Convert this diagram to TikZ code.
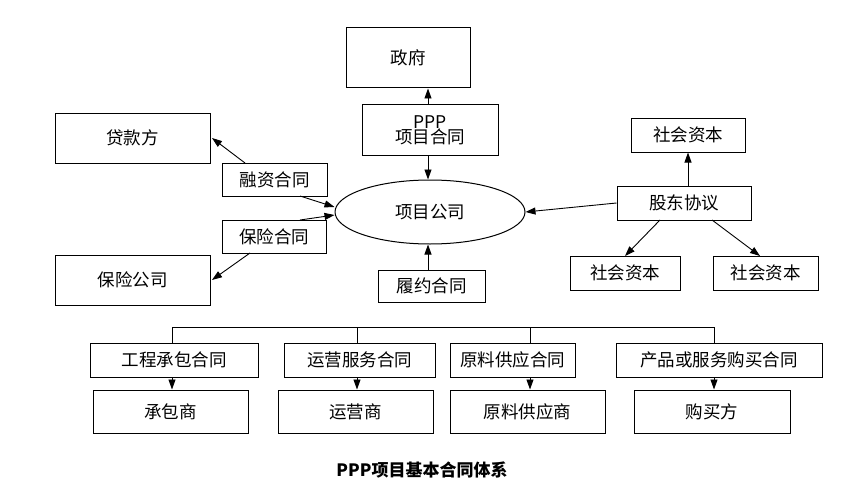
\documentclass[tikz,border=0pt]{standalone}
\usepackage{fontspec}
\setmainfont{Noto Sans CJK SC}
\setsansfont{Noto Sans CJK SC}
\usetikzlibrary{arrows.meta,shapes.geometric}
\begin{document}
\begin{tikzpicture}[x=1pt,y=-1pt,
  box/.style={draw,line width=1pt,inner sep=0pt,font=\fontsize{17.5}{20}\selectfont},
  arr/.style={line width=0.9pt,-{Triangle[length=10pt,width=7pt]}},
  ln/.style={line width=0.9pt}]
\useasboundingbox (0,0) rectangle (866,500);
\newcommand{\bx}[6]{\node[box,minimum width=#4-#2,minimum height=#5-#3,align=center] (#1) at ({(#2+#4)/2},{(#3+#5)/2}) {#6};}
\bx{gov}{346}{28}{470}{88}{政府}
\bx{ppp}{362}{105}{498}{155}{PPP\\[-5pt]项目合同}
\bx{loan}{55}{113}{210}{163}{贷款方}
\bx{rz}{222}{163}{327}{196}{融资合同}
\bx{bx}{222}{220}{326}{253}{保险合同}
\bx{ins}{55}{255}{210}{305}{保险公司}
\bx{ly}{378}{270}{485}{302}{履约合同}
\bx{sc1}{631}{118}{745}{152}{社会资本}
\bx{gd}{617}{186}{751}{220}{股东协议}
\bx{sc2}{570}{256}{680}{290}{社会资本}
\bx{sc3}{713}{256}{818}{290}{社会资本}
\node[draw,ellipse,line width=1pt,minimum width=190,minimum height=64,font=\fontsize{17.5}{20}\selectfont] (co) at (430,212) {项目公司};
\bx{c1}{90}{343}{258}{377}{工程承包合同}
\bx{c2}{284}{343}{435}{377}{运营服务合同}
\bx{c3}{450}{343}{575}{377}{原料供应合同}
\bx{c4}{616}{343}{822}{377}{产品或服务购买合同}
\bx{p1}{93}{390}{248}{433}{承包商}
\bx{p2}{278}{390}{433}{433}{运营商}
\bx{p3}{450}{390}{605}{433}{原料供应商}
\bx{p4}{634}{390}{790}{433}{购买方}
\coordinate (k1) at (172,327); \coordinate (k2) at (357,327);
\coordinate (k3) at (530,327); \coordinate (k4) at (714,327);
\draw[ln] (c1.north -| k1) -- (k1) -- (k4) -- (c4.north -| k4);
\draw[ln] (k2) -- (c2.north -| k2); \draw[ln] (k3) -- (c3.north -| k3);
\draw[arr] (c1.south -| k1) -- (p1.north -| k1);
\draw[arr] (c2.south -| k2) -- (p2.north -| k2);
\draw[arr] (c3.south -| k3) -- (p3.north -| k3);
\draw[arr] (c4.south -| k4) -- (p4.north -| k4);
\coordinate (g1) at (428,105);
\draw[arr] (g1) -- (gov.south -| g1);
\draw[arr] (ppp.south -| g1) -- (co.north -| g1);
\draw[arr] (ly.north -| g1) -- (co.south -| g1);
\draw[arr] (gd.west) -- (co.east);
\draw[arr] (gd.north -| sc1) -- (sc1.south);
\coordinate (r1) at (245,163); \coordinate (r2) at (300,196);
\coordinate (b1) at (300,220); \coordinate (b2) at (250,253);
\draw[arr] (r1) -- (212,138);
\draw[arr] (r2) -- (co.west |- 0,207);
\draw[arr] (b1) -- (co.west |- 0,215);
\draw[arr] (b2) -- (212,280);
\coordinate (s1) at (660,220); \coordinate (s2) at (712,220);
\draw[arr] (s1) -- (625,256);
\draw[arr] (s2) -- (760,256);
\node[font=\sffamily\bfseries\fontsize{17}{20}\selectfont] (cap) at (422,470) {PPP项目基本合同体系};
\end{tikzpicture}
\end{document}
